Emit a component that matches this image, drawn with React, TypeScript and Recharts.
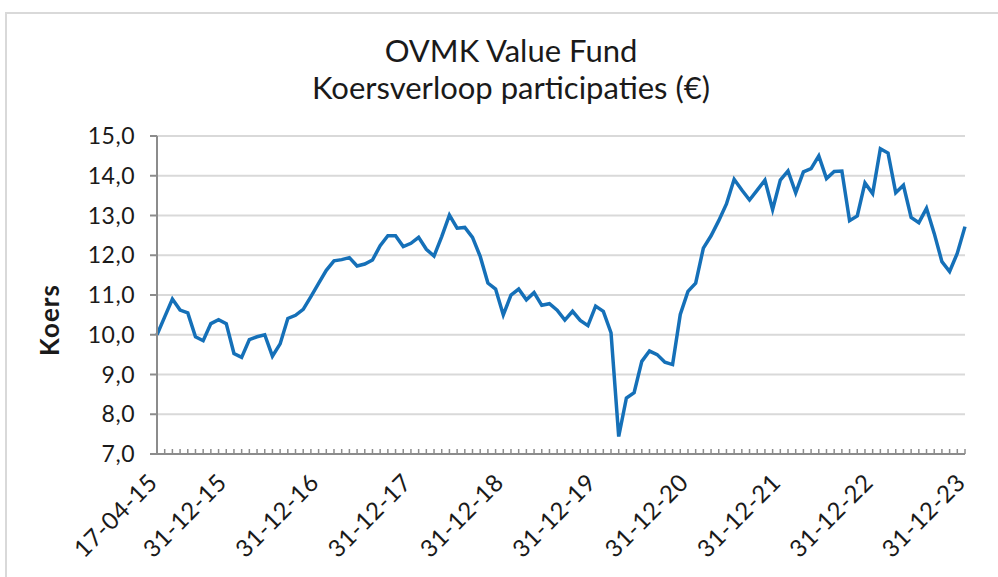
import React from "react";
import { LineChart, Line, XAxis, YAxis, CartesianGrid, Label } from "recharts";

// koers per jaar; 2015 begint op 17-04-15, daarna maandeinde
const koers2015 = [10.0, 10.45, 10.9, 10.62, 10.55, 9.95, 9.85, 10.28, 10.38, 10.28];
const koers2016 = [9.53, 9.43, 9.88, 9.95, 10.0, 9.46, 9.77, 10.41, 10.49, 10.64, 10.96, 11.29];
const koers2017 = [11.62, 11.86, 11.89, 11.94, 11.73, 11.78, 11.88, 12.24, 12.49, 12.49, 12.22, 12.3];
const koers2018 = [12.45, 12.15, 11.98, 12.47, 13.01, 12.68, 12.7, 12.45, 11.97, 11.3, 11.15, 10.5];
const koers2019 = [11.0, 11.15, 10.88, 11.06, 10.74, 10.78, 10.62, 10.37, 10.59, 10.36, 10.23, 10.72];
const koers2020 = [10.59, 10.05, 7.44, 8.41, 8.54, 9.33, 9.59, 9.5, 9.31, 9.25, 10.51, 11.09];
const koers2021 = [11.3, 12.18, 12.49, 12.87, 13.29, 13.91, 13.64, 13.39, 13.64, 13.89, 13.15, 13.89];
const koers2022 = [14.12, 13.57, 14.1, 14.18, 14.5, 13.93, 14.11, 14.12, 12.87, 12.99, 13.82, 13.55];
const koers2023 = [14.68, 14.57, 13.57, 13.76, 12.95, 12.82, 13.18, 12.55, 11.84, 11.59, 12.05, 12.72];

const startDate = "17-04-15";
const yearSeries: [number, number[]][] = [
  [2015, koers2015],
  [2016, koers2016],
  [2017, koers2017],
  [2018, koers2018],
  [2019, koers2019],
  [2020, koers2020],
  [2021, koers2021],
  [2022, koers2022],
  [2023, koers2023],
];

const yTicks = [7, 8, 9, 10, 11, 12, 13, 14, 15];

const pad = (n: number) => (n < 10 ? "0" + n : String(n));

function monthEnd(year: number, month: number) {
  return new Date(year, month, 0).getDate();
}

const data: { datum: string; koers: number }[] = [];
yearSeries.forEach(([year, values]) => {
  const yy = String(year).slice(2);
  let vals = values;
  if (year === 2015) {
    data.push({ datum: startDate, koers: values[0] });
    vals = values.slice(1);
  }
  const firstMonth = 13 - vals.length;
  vals.forEach((v, i) => {
    const m = firstMonth + i;
    data.push({ datum: `${pad(monthEnd(year, m))}-${pad(m)}-${yy}`, koers: v });
  });
});

const FONT = "Lato, 'Open Sans', sans-serif";
const AXIS_GRAY = "#8c8c8c";

function XTick(props: any) {
  const { x, y, payload, index } = props;
  const label: string = payload.value;
  const i = payload.index ?? index;
  const show = i === 0 || label.startsWith("31-12");
  const ax = x + 2;
  const ay = y + 30;
  return (
    <g>
      <line x1={x} x2={x} y1={y} y2={y - 5} stroke={AXIS_GRAY} strokeWidth={1.5} />
      {show && (
        <text
          x={ax}
          y={ay}
          transform={`rotate(-45 ${ax} ${ay})`}
          textAnchor="end"
          fontFamily={FONT}
          fontSize={24}
          letterSpacing={0.6}
          fill="#1a1a1a"
        >
          {label}
        </text>
      )}
    </g>
  );
}

function KoersLabel(props: any) {
  const { viewBox } = props;
  const cx = 49;
  const cy = viewBox.y + viewBox.height / 2 + 25;
  return (
    <text
      x={cx}
      y={cy}
      transform={`rotate(-90 ${cx} ${cy})`}
      textAnchor="middle"
      dominantBaseline="central"
      fontFamily={FONT}
      fontWeight="bold"
      fontSize={26}
      letterSpacing={1}
      fill="#1a1a1a"
    >
      Koers
    </text>
  );
}

export default function App() {
  return (
    <div
      style={{
        position: "absolute",
        left: 0,
        top: 0,
        width: 998,
        height: 577,
        overflow: "hidden",
        background: "#fff",
      }}
    >
      <div
        style={{
          position: "absolute",
          left: 5,
          top: 12,
          width: 1100,
          height: 700,
          border: "2px solid #d9d9d9",
        }}
      />
      <div
        style={{
          position: "absolute",
          left: 0,
          top: 32,
          width: 1022,
          textAlign: "center",
          fontFamily: FONT,
          fontSize: 31,
          lineHeight: "37px",
          color: "#1a1a1a",
        }}
      >
        <div>OVMK Value Fund</div>
        <div>Koersverloop participaties (€)</div>
      </div>
      <div style={{ position: "absolute", left: 0, top: 0 }}>
        <LineChart
          width={998}
          height={577}
          data={data}
          margin={{ top: 136, right: 33, bottom: 23, left: 0 }}
        >
          <CartesianGrid
            vertical={false}
            horizontal={true}
            stroke="#d9d9d9"
            strokeWidth={2}
          />
          <XAxis
            dataKey="datum"
            interval={0}
            height={100}
            tickSize={0}
            tickMargin={0}
            tickLine={false}
            tick={<XTick />}
            axisLine={{ stroke: AXIS_GRAY, strokeWidth: 2 }}
          />
          <YAxis
            width={157}
            domain={[7, 15]}
            ticks={yTicks}
            interval={0}
            tickSize={7}
            tickMargin={15}
            tickLine={{ stroke: AXIS_GRAY, strokeWidth: 2 }}
            axisLine={{ stroke: AXIS_GRAY, strokeWidth: 2 }}
            tickFormatter={(v: number) => v.toFixed(1).replace(".", ",")}
            tick={{ fontFamily: FONT, fontSize: 23, letterSpacing: 0.5, fill: "#1a1a1a" }}
          >
            <Label content={<KoersLabel />} />
          </YAxis>
          <Line
            type="linear"
            dataKey="koers"
            stroke="#1570b8"
            strokeWidth={3.5}
            dot={false}
            isAnimationActive={false}
          />
        </LineChart>
      </div>
    </div>
  );
}
